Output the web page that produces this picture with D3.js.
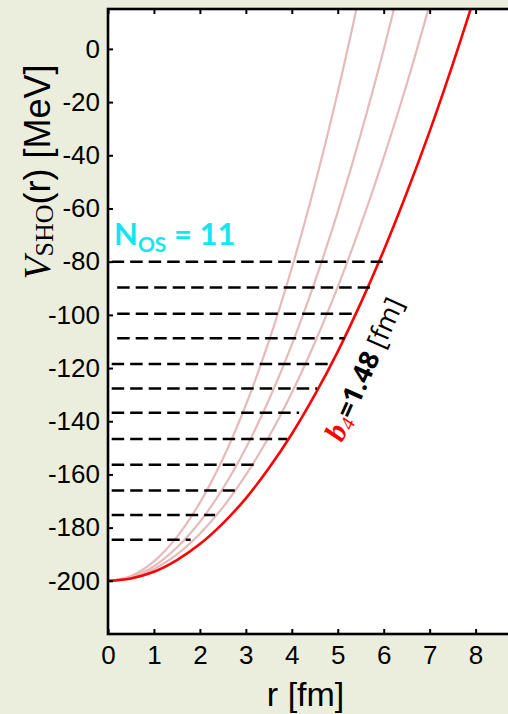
<!DOCTYPE html>
<html>
<head>
<meta charset="utf-8">
<script src="https://cdn.jsdelivr.net/npm/d3@7"></script>
<style>
  body { margin: 0; background: #ebeedd; }
  svg { display: block; }
  .axis text { font-family: "Liberation Sans", Arial, sans-serif; font-size: 26px; fill: #000; }
  .axis line { stroke: #000; stroke-width: 2; }
</style>
</head>
<body>
<div id="chart-container"></div>
<script>
// Values
var rGrid = [0, 0.5, 1, 1.5, 2, 2.5, 3, 3.5, 4, 4.5, 5, 5.5, 6, 6.5, 7, 7.5, 8]
var vPink1 = [-200, -198.2, -192.7, -183.5, -170.6, -154.1, -133.9, -110.0, -82.4, -51.2, -16.3, 22.3]
var vPink2 = [-200, -198.6, -194.5, -187.5, -177.8, -165.3, -150.1, -132.0, -111.2, -87.6, -61.3, -32.1, -0.2, 34.5]
var vPink3 = [-200, -198.9, -195.6, -190.1, -182.3, -172.4, -160.2, -145.9, -129.3, -110.5, -89.5, -66.3, -40.9, -13.3, 16.6]
var vRed = [-200, -199.1, -196.6, -192.2, -186.2, -178.4, -169.0, -157.7, -144.8, -130.1, -113.8, -95.6, -75.8, -54.2, -31.0, -5.9, 20.8]

// oscillator levels (dashed)
var levelV = [-80, -89.7, -99.6, -108.8, -118.5, -127.7, -136.8, -146.7, -156.4, -166.0, -175.3, -184.6]
var levelStart = [0.08, 0.2, 0.2, 0.2, 0.08, 0.08, 0.08, 0.08, 0.08, 0.08, 0.08, 0.08]
var levelEnd = [5.98, 5.70, 5.35, 5.15, 4.87, 4.55, 4.16, 3.90, 3.18, 2.76, 2.33, 1.80]

var xTicks = [0, 1, 2, 3, 4, 5, 6, 7, 8]
var yTicks = [0, -20, -40, -60, -80, -100, -120, -140, -160, -180, -200]

var WIDTH = 508
var HEIGHT = 714
var plot = {left: 108, top: 9, bottom: 634}
var UNIT_X = 45.95

var svg = d3.select('#chart-container')
  .append('svg')
  .attr('width', WIDTH)
  .attr('height', HEIGHT)

svg.append('rect')
  .attr('width', WIDTH)
  .attr('height', HEIGHT)
  .attr('fill', '#ebeedd')

var xScale = d3.scaleLinear()
  .domain([0, 9])
  .range([plot.left, plot.left + 9 * UNIT_X])

var yScale = d3.scaleLinear()
  .domain([-220, 15])
  .range([plot.bottom, plot.top])

var plotRight = xScale(9)

// white plot area
svg.append('rect')
  .attr('x', plot.left)
  .attr('y', plot.top)
  .attr('width', plotRight - plot.left)
  .attr('height', plot.bottom - plot.top)
  .attr('fill', '#fff')

svg.append('clipPath').attr('id', 'clip')
  .append('rect')
  .attr('x', plot.left)
  .attr('y', plot.top)
  .attr('width', plotRight - plot.left)
  .attr('height', plot.bottom - plot.top)

var lineGenerator = d3.line()
  .curve(d3.curveCatmullRom)
  .x(function(d) { return xScale(d[0]) })
  .y(function(d) { return yScale(d[1]) })

function pairs(values) {
  return values.map(function(v, i) { return [rGrid[i], v] })
}

// plain hyphen like the original, not the unicode minus
function plainNumber(d) { return String(d) }

var curves = svg.append('g').attr('clip-path', 'url(#clip)')

/* light curves */
;[vPink1, vPink2, vPink3].forEach(function(values) {
  curves.append('path')
    .datum(pairs(values))
    .attr('d', lineGenerator)
    .attr('fill', 'none')
    .attr('stroke', '#e6baba')
    .attr('stroke-width', 2.2)
})

/* b4 curve */
curves.append('path')
  .datum(pairs(vRed))
  .attr('d', lineGenerator)
  .attr('fill', 'none')
  .attr('stroke', '#ff0000')
  .attr('stroke-width', 2.6)

/* dashed levels */
curves.selectAll('.level')
  .data(levelV)
  .enter().append('line')
  .attr('class', 'level')
  .attr('x1', function(d, i) { return xScale(levelStart[i]) })
  .attr('x2', function(d, i) { return xScale(levelEnd[i]) })
  .attr('y1', function(d) { return yScale(d) })
  .attr('y2', function(d) { return yScale(d) })
  .attr('stroke', '#000')
  .attr('stroke-width', 2.5)
  .attr('stroke-dasharray', '12.5,6')

/* axes */
svg.append('g')
  .attr('class', 'axis axis--y')
  .attr('transform', 'translate(' + plot.left + ',0)')
  .call(d3.axisLeft(yScale).tickValues(yTicks).tickFormat(plainNumber).tickSize(-5).tickPadding(8))
  .call(function(g) { g.select('.domain').remove() })

svg.append('g')
  .attr('class', 'axis axis--x')
  .attr('transform', 'translate(0,' + plot.bottom + ')')
  .call(d3.axisBottom(xScale).tickValues(xTicks).tickFormat(plainNumber).tickSize(-5).tickPadding(12))
  .call(function(g) { g.select('.domain').remove() })

svg.append('g')
  .attr('class', 'axis axis--top')
  .attr('transform', 'translate(0,' + plot.top + ')')
  .call(d3.axisTop(xScale).tickValues(xTicks).tickSize(-5).tickFormat(''))
  .call(function(g) { g.select('.domain').remove() })

// frame
svg.append('rect')
  .attr('x', plot.left)
  .attr('y', plot.top)
  .attr('width', plotRight - plot.left)
  .attr('height', plot.bottom - plot.top)
  .attr('fill', 'none')
  .attr('stroke', '#000')
  .attr('stroke-width', 2.6)

/* axis titles */
svg.append('text')
  .attr('x', xScale(4.3))
  .attr('y', 706)
  .attr('text-anchor', 'middle')
  .style('font-family', '"Liberation Sans", Arial, sans-serif')
  .style('font-size', '34px')
  .text('r [fm]')

var yTitle = svg.append('text')
  .attr('transform', 'translate(50,172) rotate(-90)')
  .attr('text-anchor', 'middle')
  .style('font-size', '36px')
yTitle.append('tspan')
  .style('font-family', '"Liberation Serif", serif')
  .style('font-style', 'italic')
  .style('font-size', '38px')
  .text('V')
yTitle.append('tspan')
  .style('font-family', '"Liberation Serif", serif')
  .style('font-size', '26px')
  .attr('dy', 3)
  .text('SHO')
yTitle.append('tspan')
  .style('font-family', '"Liberation Sans", Arial, sans-serif')
  .attr('dy', -3)
  .text('(r) [MeV]')

/* N_OS label */
var nos = svg.append('text')
  .attr('x', 114)
  .attr('y', 245)
  .attr('fill', '#14e6ee')
  .style('font-family', 'Lato, sans-serif')
  .style('font-weight', 'bold')
  .style('font-size', '31px')
nos.append('tspan').text('N')
nos.append('tspan').attr('dy', 7).style('font-size', '21px').text('OS')
nos.append('tspan').attr('dy', -7).text(' = 11')

/* b4 label along the red curve */
var b4 = svg.append('text')
  .attr('transform', 'translate(342,443) rotate(-66)')
  .style('font-size', '27px')
b4.append('tspan')
  .attr('fill', '#ff0000')
  .style('font-family', '"Liberation Serif", serif')
  .style('font-style', 'italic')
  .style('font-weight', 'bold')
  .style('font-size', '30px')
  .text('b')
b4.append('tspan')
  .attr('fill', '#ff0000')
  .attr('dy', 4)
  .style('font-family', '"Liberation Serif", serif')
  .style('font-style', 'italic')
  .style('font-size', '20px')
  .text('4')
b4.append('tspan')
  .attr('dy', -4)
  .style('font-family', '"Open Sans", sans-serif')
  .style('font-weight', 'bold')
  .text('=1.48')
b4.append('tspan')
  .style('font-family', '"Open Sans", sans-serif')
  .text(' [fm]')
</script>
</body>
</html>
